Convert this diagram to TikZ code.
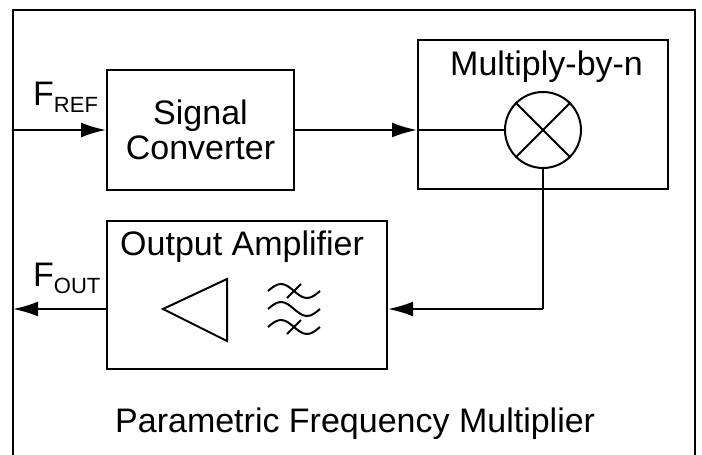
\documentclass[tikz,border=0pt]{standalone}
\usepackage{fontspec}
\setmainfont{Liberation Sans}
\usepackage{tikz}
\usetikzlibrary{arrows.meta}
\tikzstyle{block}=[draw,line width=2pt,inner sep=0pt,font=\fontsize{34}{35}\selectfont]
\tikzstyle{wire}=[line width=2pt]
\tikzstyle{sig}=[wire,-{Latex[length=25pt,width=15pt]}]
\tikzstyle{lbl}=[inner sep=0pt,font=\fontsize{34}{35}\selectfont]
\newcommand{\freq}[1]{F\raisebox{-7pt}{\fontsize{22}{22}\selectfont #1}}

\begin{document}
\begin{tikzpicture}[x=1pt,y=-1pt]
        \useasboundingbox (0,0) rectangle (702,455);
        \draw [wire] (13,455) -- (13,10) -- (695,10) -- (695,455);
        \node at (200.5,130) [block,minimum width=187pt,minimum height=120pt,align=center] (conv) {Signal\\Converter};
        \node at (543,114.5) [block,minimum width=250pt,minimum height=149pt] (mulbox) {};
        \node at (450,75) [lbl,anchor=base west] (multxt) {Multiply-by-n};
        \node at (543,130) [circle,draw,wire,minimum size=76pt,inner sep=0pt] (mix) {};
        \draw [wire] (mix.45) -- (mix.225) (mix.135) -- (mix.315);
        \node at (247,295) [block,minimum width=280pt,minimum height=148pt] (amp) {};
        \node at (120,255) [lbl,anchor=base west] (amptxt) {Output Amplifier};
        \draw [wire,line join=miter] (163,309) -- (227,279) -- (227,341) -- cycle;
        \foreach \y in {291,309,327}
          \draw [wire] (268,\y) sin (281,\y-7) cos (294,\y) sin (307,\y+7) cos (320,\y);
        \draw [wire] (287,298) -- (301,284) (287,334) -- (301,320);
        \coordinate (in) at (13,130);
        \coordinate (out) at (13,309);
        \coordinate (turn) at (543,309);
        \draw [sig] (in) -- (conv.west);
        \draw [sig] (conv.east) -- (conv.east -| mulbox.west);
        \draw [wire] (conv.east -| mulbox.west) -- (mix.west);
        \draw [wire] (mix.south) -- (turn);
        \draw [sig] (turn) -- (turn -| amp.east);
        \draw [sig] (turn -| amp.west) -- (out);
        \node at (33,105) [lbl,anchor=base west] (fref) {\freq{REF}};
        \node at (33,286) [lbl,anchor=base west] (fout) {\freq{OUT}};
        \node at (115,432) [lbl,anchor=base west] (title) {Parametric Frequency Multiplier};
      \end{tikzpicture}
\end{document}
